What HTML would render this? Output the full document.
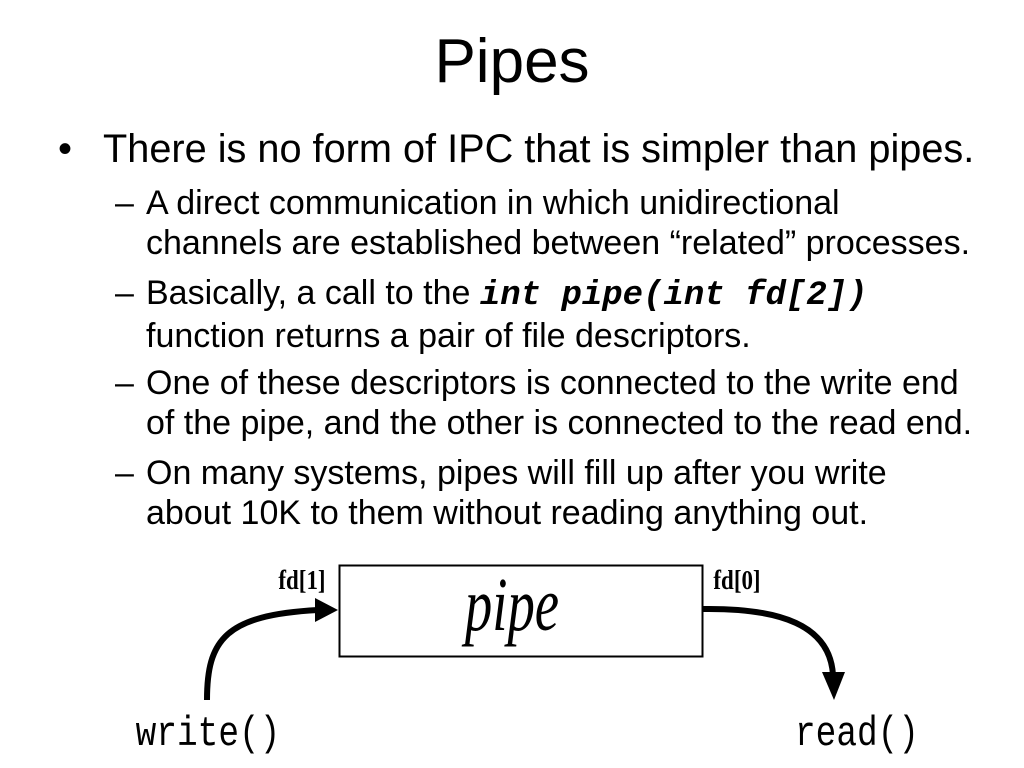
<!DOCTYPE html>
<html><head><style>
body{margin:0;width:1024px;height:768px;background:#fff;position:relative;overflow:hidden;font-family:"Liberation Sans",sans-serif;color:#000}
.t{position:absolute;white-space:nowrap}
</style></head><body>
<div class="t" style="left:0;width:1024px;text-align:center;top:26px;font-size:62px">Pipes</div>
<div class="t" style="left:58px;top:127px;font-size:40px;line-height:45px">•</div>
<div class="t" style="left:103px;top:127px;font-size:39.7px;line-height:45px">There is no form of IPC that is simpler than pipes.</div>
<div style="position:absolute;left:115px;top:183px;font-size:34px;line-height:40px">
<div class="t" style="left:0;top:0">–</div><div class="t" style="left:31px;top:0">A direct communication in which unidirectional<br>channels are established between “related” processes.</div>
<div class="t" style="left:0;top:90px">–</div><div class="t" style="left:31px;top:90px">Basically, a call to the <b style="font-family:'Liberation Mono',monospace;font-style:italic">int pipe(int fd[2])</b><br>function returns a pair of file descriptors.</div>
<div class="t" style="left:0;top:180px">–</div><div class="t" style="left:31px;top:180px">One of these descriptors is connected to the write end<br>of the pipe, and the other is connected to the read end.</div>
<div class="t" style="left:0;top:270px">–</div><div class="t" style="left:31px;top:270px">On many systems, pipes will fill up after you write<br>about 10K to them without reading anything out.</div>
</div>
<svg width="1024" height="768" style="position:absolute;left:0;top:0">
<rect x="339.5" y="565.5" width="363" height="91" fill="#fff" stroke="#000" stroke-width="2"/>
<text x="512" y="630" text-anchor="middle" font-family="Liberation Serif,serif" font-style="italic" font-size="76" transform="translate(512 0) scale(0.72 1) translate(-512 0)">pipe</text>
<text x="302" y="589" text-anchor="middle" font-family="Liberation Serif,serif" font-weight="bold" font-size="27" transform="translate(302 0) scale(0.85 1) translate(-302 0)">fd[1]</text>
<text x="737" y="589" text-anchor="middle" font-family="Liberation Serif,serif" font-weight="bold" font-size="27" transform="translate(737 0) scale(0.85 1) translate(-737 0)">fd[0]</text>
<path d="M207 700 C207 640 225 615 318 610" fill="none" stroke="#000" stroke-width="6"/>
<polygon points="315,598 338,610 315,622" fill="#000"/>
<path d="M703 609 C780 608 830 625 833 675" fill="none" stroke="#000" stroke-width="6"/>
<polygon points="822,672 845,672 834,700" fill="#000"/>
<text x="208" y="745" text-anchor="middle" font-family="Liberation Mono,monospace" font-size="42" transform="translate(208 0) scale(0.82 1) translate(-208 0)">write()</text>
<text x="857" y="745" text-anchor="middle" font-family="Liberation Mono,monospace" font-size="42" transform="translate(857 0) scale(0.82 1) translate(-857 0)">read()</text>
</svg>
</body></html>
